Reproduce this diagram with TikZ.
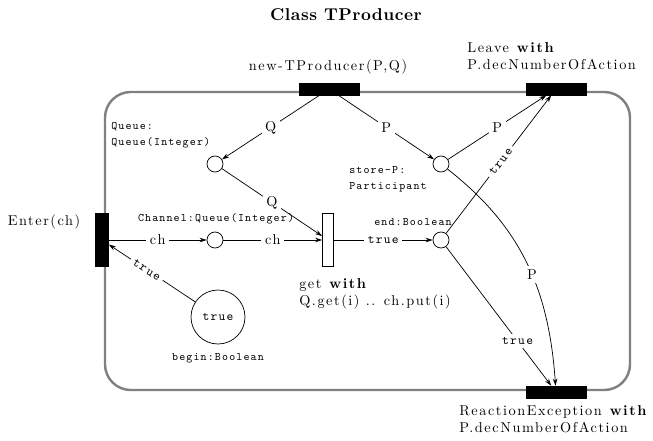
\documentclass[tikz,border=0pt]{standalone}
\usepackage{fontspec}
\usetikzlibrary{arrows.meta}
\newfontfamily\sprm{lmroman10-regular.otf}[BoldFont=lmroman10-bold.otf, LetterSpace=11]
\newfontfamily\sptt{lmmono10-regular.otf}[LetterSpace=10]
\newfontfamily\titlefont{lmroman10-bold.otf}[LetterSpace=3]
\begin{document}
\begin{tikzpicture}[x=0.7pt,y=-0.7pt,
  arc/.style={draw, line width=0.5pt, -{Stealth[length=5pt,width=3.2pt]}},
  lab/.style={fill=white, inner sep=2.5pt, font=\sprm\normalsize},
  tlab/.style={fill=white, inner sep=2.5pt, font=\sptt\small},
  bar/.style={draw, fill=black, inner sep=0pt},
  place/.style={draw, circle, inner sep=0pt, minimum size=11.2pt, line width=0.5pt},
  ttlab/.style={font=\sptt\footnotesize, inner sep=0pt},
  rmlab/.style={font=\sprm\normalsize, inner sep=0pt}]
\useasboundingbox (0,0) rectangle (653,440);
% frame
\draw[line width=1.7pt, color=black!50, rounded corners=18pt] (105,92) rectangle (630,390);
% transitions
\node[bar, minimum width=42pt, minimum height=8.4pt] (new) at (329,89) {};
\node[bar, minimum width=42pt, minimum height=8.4pt] (leave) at (556,89) {};
\node[bar, minimum width=42pt, minimum height=8.4pt] (react) at (556,392) {};
\node[bar, minimum width=9.1pt, minimum height=37.1pt] (enter) at (102,240) {};
\node[draw, fill=white, inner sep=0pt, minimum width=7.7pt, minimum height=37.1pt, line width=0.5pt] (get) at (328,240) {};
% places
\node[place] (queue) at (215,164) {};
\node[place] (storep) at (441,164) {};
\node[place] (chan) at (215,240) {};
\node[place] (endp) at (441,240) {};
\node[draw, circle, inner sep=0pt, minimum size=37.8pt, line width=0.5pt, font=\sptt\small] (begin) at (218,317) {true};
% texts
\node[font=\titlefont\large] (title) at (346,15) {Class TProducer};
\node[rmlab] (newl) at (328,67) {new-TProducer(P,Q)};
\node[rmlab, anchor=north west, align=left] (leavel) at (467,42) {Leave \textbf{with}\\P.decNumberOfAction};
\node[rmlab, anchor=north west, align=left] (reactl) at (459,405) {ReactionException \textbf{with}\\P.decNumberOfAction};
\node[rmlab] (enterl) at (44,222) {Enter(ch)};
\node[rmlab, anchor=north west, align=left] (getl) at (299,278) {get \textbf{with}\\Q.get(i) .. ch.put(i)};
\node[ttlab, anchor=north west, align=left] (queuel) at (111,122) {Queue:\\[2pt]Queue(Integer)};
\node[ttlab, anchor=north west, align=left] (storel) at (349,166) {store-P:\\[2pt]Participant};
\node[ttlab] (chanl) at (216,219) {Channel:Queue(Integer)};
\node[ttlab] (endl) at (413,222) {end:Boolean};
\node[ttlab] (beginl) at (218,358) {begin:Boolean};
% arcs
\draw[arc] (new) -- node[lab] {Q} (queue);
\draw[arc] (new) -- node[lab] {P} (storep);
\draw[arc] (queue) -- node[lab] {Q} (get);
\draw[arc] (enter) -- node[lab] {ch} (chan);
\draw[arc] (chan) -- node[lab] {ch} (get);
\draw[arc] (get) -- node[tlab] {true} (endp);
\draw[arc] (begin) -- node[tlab, sloped, pos=0.56] {true} (enter);
\draw[arc] (storep) -- node[lab] {P} (leave);
\draw[arc] (endp) -- node[tlab, sloped, pos=0.52] {true} (leave);
\draw[arc] (endp) -- node[tlab, pos=0.68] {true} (react);
\draw[arc] (storep) to[out=-38, in=94] node[lab, pos=0.55] {P} (react);
\end{tikzpicture}
\end{document}
